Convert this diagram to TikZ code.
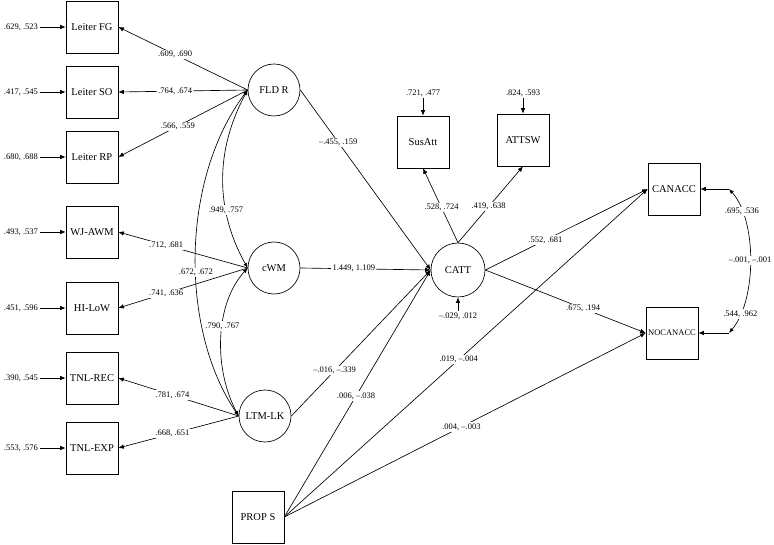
\documentclass[tikz,border=0pt]{standalone}
\usepackage{fontspec}
\setmainfont{Liberation Serif}
\usetikzlibrary{arrows.meta}
\begin{document}
\begin{tikzpicture}[x=1pt,y=-1pt, line width=0.65pt,
  obs/.style={draw, minimum width=52pt, minimum height=52pt, inner sep=0pt, font=\fontsize{10.5}{12}\selectfont},
  lat/.style={draw, circle, minimum size=52pt, inner sep=0pt, font=\fontsize{10.5}{12}\selectfont},
  lbl/.style={fill=white, inner sep=1.2pt, font=\fontsize{8.5}{10}\selectfont},
  err/.style={inner sep=1.5pt, font=\fontsize{8.5}{10}\selectfont},
  arr/.style={-{Latex[length=5.5pt,width=4.5pt]}},
  darr/.style={{Latex[length=5pt,width=4pt]}-{Latex[length=5pt,width=4pt]}},
]
\useasboundingbox (0,0) rectangle (774,545);

% observed indicators
\node[obs] (FG) at (92,27) {Leiter FG};
\node[obs] (SO) at (92,92) {Leiter SO};
\node[obs] (RP) at (92,157) {Leiter RP};
\node[obs] (WJ) at (92,232) {WJ-AWM};
\node[obs] (HI) at (92,308) {HI-LoW};
\node[obs] (REC) at (92,378) {TNL-REC};
\node[obs] (EXP) at (92,448) {TNL-EXP};

% latent
\node[lat] (FLD) at (274,90) {FLD R};
\node[lat] (CWM) at (274,268) {cWM};
\node[lat] (LTM) at (265,416) {LTM-LK};
\node[lat, minimum size=54pt] (CATT) at (458,270) {CATT};

% other observed
\node[obs] (SUS) at (423,142) {SusAtt};
\node[obs] (ATT) at (523,140) {ATTSW};
\node[obs] (CAN) at (674,189) {CANACC};
\node[obs, font=\fontsize{8.5}{10}\selectfont] (NOC) at (672,333) {NOCANACC};
\node[obs] (PROP) at (258,517) {PROP S};

% error terms
\node[err] (eFG) at (21,27) {.629, .523};
\node[err] (eSO) at (21,92) {.417, .545};
\node[err] (eRP) at (21,157) {.680, .688};
\node[err] (eWJ) at (21,232) {.493, .537};
\node[err] (eHI) at (21,308) {.451, .596};
\node[err] (eREC) at (21,378) {.390, .545};
\node[err] (eEXP) at (21,448) {.553, .576};
\node[err] (eSUS) at (423,93) {.721, .477};
\node[err] (eATT) at (523,93) {.824, .593};
\node[err] (eCATT) at (458,316) {–.029, .012};

\foreach \e/\t in {eFG/FG,eSO/SO,eRP/RP,eWJ/WJ,eHI/HI,eREC/REC,eEXP/EXP,eSUS/SUS,eATT/ATT,eCATT/CATT}
  \draw[arr] (\e) -- (\t);

% loadings
\draw[arr] (FLD.west) -- node[lbl,pos=0.56]{.609, .690} (FG.east);
\draw[arr] (FLD.west) -- node[lbl,pos=0.56]{.764, .674} (SO.east);
\draw[arr] (FLD.west) -- node[lbl,pos=0.54]{.566, .559} (RP.east);
\draw[arr] (CWM.west) -- node[lbl,pos=0.63]{.712, .681} (WJ.east);
\draw[arr] (CWM.west) -- node[lbl,pos=0.63]{.741, .636} (HI.east);
\draw[arr] (LTM.west) -- node[lbl,pos=0.55]{.781, .674} (REC.east);
\draw[arr] (LTM.west) -- node[lbl,pos=0.55]{.668, .651} (EXP.east);

% covariances among latents
\draw[darr] (FLD.west) .. controls (215,150) and (215,210) .. node[lbl,pos=0.67]{.949, .757} (CWM.west);
\draw[darr] (CWM.west) .. controls (214,305) and (214,370) .. node[lbl,pos=0.42]{.790, .767} (LTM.west);
\draw[darr] (FLD.west) .. controls (180,180) and (180,330) .. node[lbl,pos=0.55]{.672, .672} (LTM.west);

% structural paths
\draw[arr] (FLD.east) -- node[lbl,pos=0.29]{–.455, .159} (CATT.west);
\draw[arr] (CWM.east) -- node[lbl,pos=0.41]{1.449, 1.109} (CATT.west);
\draw[arr] (LTM.east) -- node[lbl,pos=0.31]{–.016, –.339} (CATT.west);
\draw[arr] (PROP.east) -- node[lbl,pos=0.49]{.006, –.038} (CATT.west);
\draw[arr] (PROP.east) -- node[lbl,pos=0.48]{.019, –.004} (CAN.west);
\draw[arr] (PROP.east) -- node[lbl,pos=0.49]{.004, –.003} (NOC.west);
\draw[arr] (CATT.east) -- node[lbl,pos=0.37]{.552, .681} (CAN.west);
\draw[arr] (CATT.east) -- node[lbl,pos=0.61]{.675, .194} (NOC.west);
\draw[arr] (CATT.north) -- node[lbl,pos=0.47]{.528, .724} (SUS.south);
\draw[arr] (CATT.north) -- node[lbl,pos=0.47]{.419, .638} (ATT.south);

% residual covariance of outcomes
\coordinate (c1) at (729,189);
\coordinate (c2) at (729,333);
\draw[arr] (c1) -- (CAN.east);
\draw[arr] (c2) -- (NOC.east);
\draw[darr] (c1) .. controls (757,220) and (757,300) ..
  node[lbl,pos=0.19]{.695, .536}
  node[lbl,pos=0.5]{–.001, –.001}
  node[lbl,pos=0.84]{.544, .962} (c2);
\end{tikzpicture}
\end{document}
